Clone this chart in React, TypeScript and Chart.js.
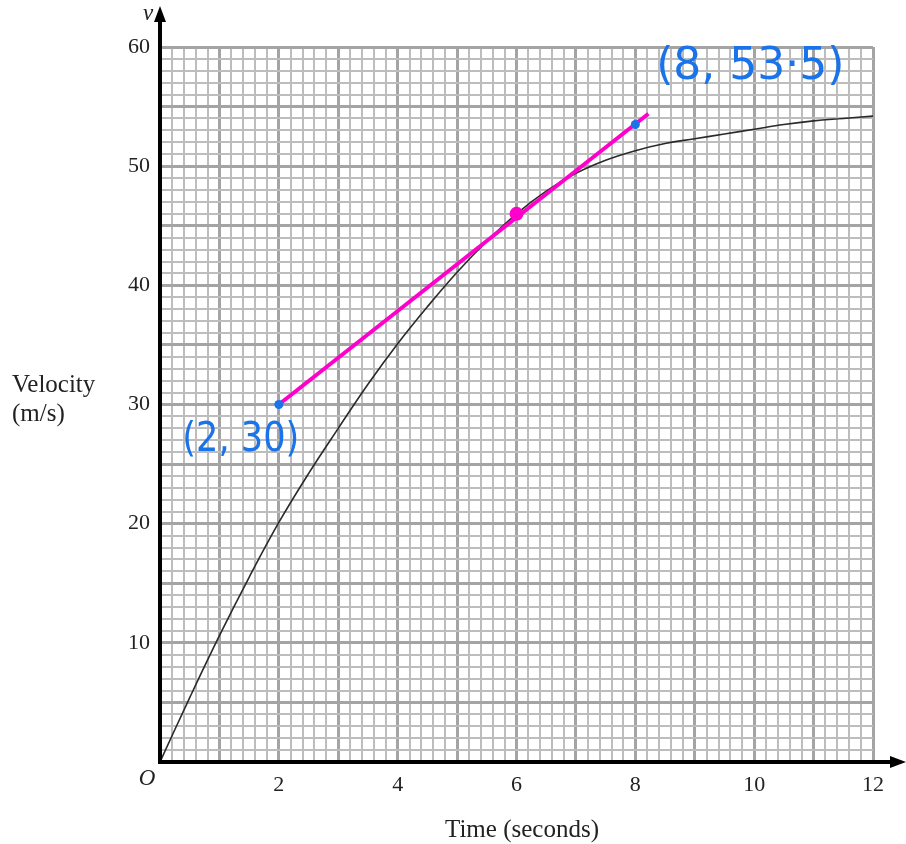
import React, { useEffect, useRef } from "react";
import { Chart, registerables } from "chart.js";

Chart.register(...registerables);

// ---- data ----
const times = [0, 0.5, 1, 1.5, 2, 2.5, 3, 3.5, 4, 4.5, 5, 5.5, 6, 6.5, 7, 7.5, 8, 8.5, 9, 9.5, 10, 10.5, 11, 11.5, 12];
const velocity = [0, 5.4, 10.6, 15.5, 20.1, 24.2, 28.0, 31.7, 35.1, 38.2, 41.1, 43.7, 46.0, 47.9, 49.4, 50.5, 51.3, 51.9, 52.3, 52.7, 53.1, 53.5, 53.8, 54.0, 54.2];

const tangentT = [2, 8.22];
const tangentV = [30, 54.4];

const markedT = [2, 8];
const markedV = [30, 53.5];
const markedLabels = ["(2, 30)", "(8, 53·5)"];

const touchT = [6];
const touchV = [46];

const xTickLabels = [2, 4, 6, 8, 10, 12];
const yTickLabels = [10, 20, 30, 40, 50, 60];

const SERIF = "'Liberation Serif', 'Times New Roman', serif";

const isMult = (v: number, step: number) => Math.abs(v / step - Math.round(v / step)) < 1e-6;

const overlay = {
  id: "overlay",
  afterDatasetsDraw(chart: any) {
    const { ctx, scales } = chart;
    const x = scales.x;
    const y = scales.y;
    const x0 = x.getPixelForValue(0);
    const y0 = y.getPixelForValue(0);
    ctx.save();
    // axes
    ctx.strokeStyle = "#000";
    ctx.fillStyle = "#000";
    ctx.lineWidth = 4;
    ctx.beginPath();
    ctx.moveTo(x0, y0 + 2);
    ctx.lineTo(x0, 20);
    ctx.stroke();
    ctx.beginPath();
    ctx.moveTo(x0, 6);
    ctx.lineTo(x0 - 6, 22);
    ctx.lineTo(x0 + 6, 22);
    ctx.closePath();
    ctx.fill();
    ctx.beginPath();
    ctx.moveTo(x0 - 2, y0);
    ctx.lineTo(892, y0);
    ctx.stroke();
    ctx.beginPath();
    ctx.moveTo(906, y0);
    ctx.lineTo(890, y0 - 6);
    ctx.lineTo(890, y0 + 6);
    ctx.closePath();
    ctx.fill();

    // axis letters
    ctx.fillStyle = "#222";
    ctx.font = `italic 23px ${SERIF}`;
    ctx.textAlign = "center";
    ctx.textBaseline = "middle";
    ctx.fillText("v", x0 - 12, 14);
    ctx.fillText("O", x0 - 13, y0 + 17);

    // titles
    ctx.font = `25px ${SERIF}`;
    ctx.textAlign = "left";
    ctx.textBaseline = "alphabetic";
    ctx.fillText("Velocity", 12, 392);
    ctx.fillText("(m/s)", 12, 421);
    ctx.textAlign = "center";
    ctx.fillText("Time (seconds)", 522, 837);

    // handwritten annotations
    ctx.fillStyle = "#1a73e8";
    ctx.textAlign = "center";
    ctx.textBaseline = "middle";
    const offs = [[-38, 36], [115, -57]];
    const sizes = [40, 44];
    const widths = [117, 190];
    markedLabels.forEach((t, i) => {
      ctx.font = `${sizes[i]}px 'DejaVu Sans', sans-serif`;
      const px = x.getPixelForValue(markedT[i]) + offs[i][0];
      const py = y.getPixelForValue(markedV[i]) + offs[i][1];
      ctx.fillText(t, px, py, widths[i]);
    });
    ctx.restore();
  },
};

export default function App() {
  const ref = useRef<HTMLCanvasElement>(null);
  useEffect(() => {
    if (!ref.current) return;
    const chart = new Chart(ref.current, {
      type: "line",
      data: {
        datasets: [
          {
            label: "marked",
            data: markedT.map((t, i) => ({ x: t, y: markedV[i] })),
            showLine: false,
            pointRadius: 4.5,
            pointBackgroundColor: "#1a73e8",
            pointBorderWidth: 0,
            order: 0,
          },
          {
            label: "touch",
            data: touchT.map((t, i) => ({ x: t, y: touchV[i] })),
            showLine: false,
            pointRadius: 7,
            pointBackgroundColor: "#ff00cc",
            pointBorderWidth: 0,
            order: 1,
          },
          {
            label: "tangent",
            data: tangentT.map((t, i) => ({ x: t, y: tangentV[i] })),
            borderColor: "#ff00cc",
            borderWidth: 4,
            pointRadius: 0,
            order: 2,
          },
          {
            label: "velocity",
            data: times.map((t, i) => ({ x: t, y: velocity[i] })),
            borderColor: "#2a2a2a",
            borderWidth: 1.6,
            pointRadius: 0,
            tension: 0.4,
            order: 3,
          },
        ],
      },
      options: {
        animation: false,
        responsive: false,
        events: [],
        layout: { padding: { top: 47, right: 33, left: 0, bottom: 0 } },
        plugins: { legend: { display: false }, tooltip: { enabled: false } },
        scales: {
          x: {
            type: "linear",
            min: 0,
            max: 12,
            afterFit: (s: any) => {
              s.height = 82;
            },
            ticks: {
              stepSize: 0.2,
              autoSkip: false,
              maxRotation: 0,
              minRotation: 0,
              padding: 10,
              color: "#222",
              font: { family: SERIF, size: 22 },
              callback: (v: any) => {
                const n = Number(v);
                const r = Math.round(n);
                return isMult(n, 1) && xTickLabels.includes(r) ? String(r) : "";
              },
            },
            grid: {
              drawTicks: false,
              color: (c: any) => (isMult(c.tick.value, 1) ? "#a4a4a4" : "#bdbdbd"),
              lineWidth: (c: any) => (isMult(c.tick.value, 1) ? 3 : 2),
            },
            border: { display: false },
          },
          y: {
            type: "linear",
            min: 0,
            max: 60,
            afterFit: (s: any) => {
              s.width = 160;
            },
            ticks: {
              stepSize: 1,
              autoSkip: false,
              padding: 10,
              color: "#222",
              font: { family: SERIF, size: 22 },
              callback: (v: any) => {
                const n = Math.round(Number(v));
                return yTickLabels.includes(n) ? String(n) : "";
              },
            },
            grid: {
              drawTicks: false,
              color: (c: any) => (isMult(c.tick.value, 5) ? "#a4a4a4" : "#bdbdbd"),
              lineWidth: (c: any) => (isMult(c.tick.value, 5) ? 3 : 2),
            },
            border: { display: false },
          },
        },
      },
      plugins: [overlay],
    } as any);
    return () => chart.destroy();
  }, []);
  return (
    <div style={{ position: "absolute", left: 0, top: 0, width: 906, height: 844, background: "#fff" }}>
      <canvas ref={ref} width={906} height={844} style={{ display: "block", width: 906, height: 844 }} />
    </div>
  );
}
